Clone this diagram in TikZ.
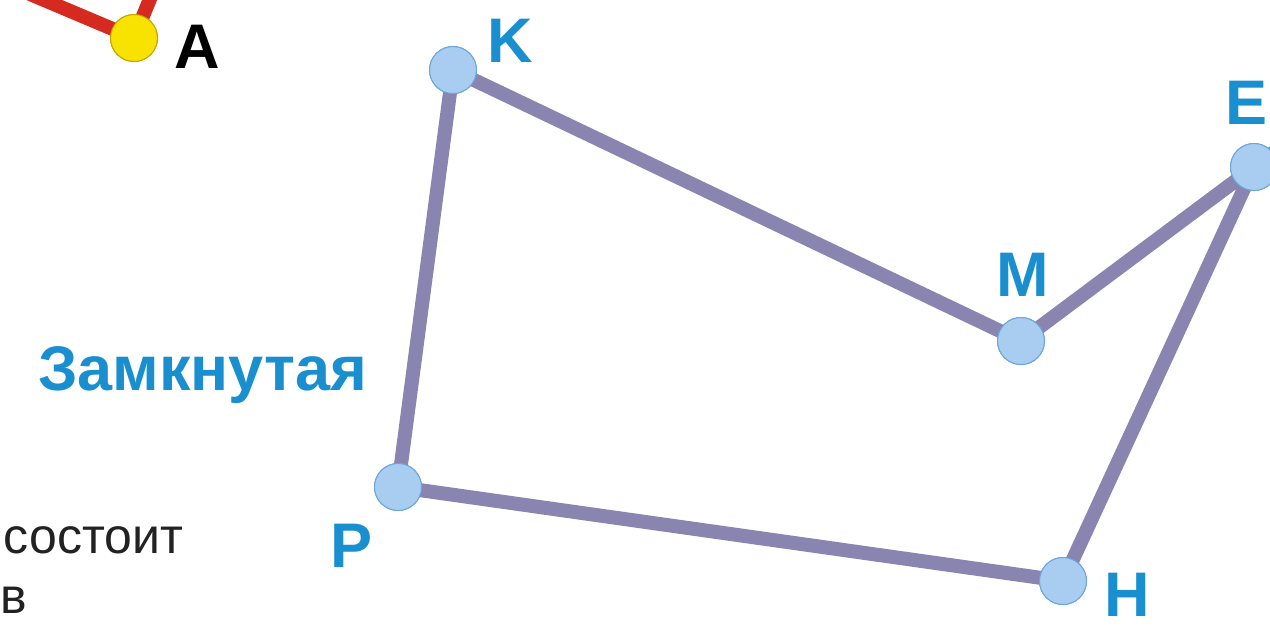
\documentclass[tikz,border=0pt]{standalone}
\usepackage{fontspec}
\setmainfont{Liberation Sans}
\usetikzlibrary{positioning}
\definecolor{edgegray}{HTML}{8A84B0}
\definecolor{dotblue}{HTML}{A9CDF0}
\definecolor{dotrim}{HTML}{6AA6D8}
\definecolor{lblblue}{HTML}{1A8FD0}
\definecolor{linered}{HTML}{D42A20}
\definecolor{dotyellow}{HTML}{F7E200}
\definecolor{yrim}{HTML}{C9A200}
\definecolor{txtgray}{HTML}{222222}

\begin{document}
\begin{tikzpicture}[
  x=1pt, y=-1pt,
  every node/.style={inner sep=0pt, outer sep=0pt},
  dot/.style={circle, draw=dotrim, line width=1pt, fill=dotblue, minimum size=47pt},
  ydot/.style={dot, draw=yrim, fill=dotyellow},
  edge/.style={draw=edgegray, line width=14pt},
  redline/.style={draw=linered, line width=14pt},
  lbl/.style={font=\fontsize{63}{70}\selectfont\bfseries, text=lblblue},
  blk/.style={font=\fontsize{63}{70}\selectfont\bfseries, text=black},
  txt/.style={font=\fontsize{50}{56}\selectfont, text=txtgray}
]
  \useasboundingbox (0,0) rectangle (1270,630);
  \clip (0,0) rectangle (1270,630);

  % open polyline, top left
  \coordinate (r1) at (30,-6);
  \coordinate (r2) at (152,-6);
  \node[ydot] (A) at (134,38) {};
  \draw[redline] (r1) -- (A.center) -- (r2);
  \node[ydot] at (A) {};
  \node[blk, anchor=base] (lA) at (197,68) {A};

  % closed polyline
  \node[dot] (K) at (453,70) {};
  \node[dot] (M) at (1021,341) {};
  \node[dot] (E) at (1254,167) {};
  \node[dot] (H) at (1063,581) {};
  \node[dot] (P) at (398,487) {};
  \draw[edge] (K.center) -- (M.center) -- (E.center) -- (H.center) -- (P.center) -- (K.center);
  \foreach \v in {K,M,E,H,P} \node[dot] at (\v) {};

  \node[lbl, anchor=base] (lK) at (510,62) {K};
  \node[lbl, anchor=base] (lM) at (1023,296) {M};
  \node[lbl, anchor=base east] (lE) at (1268,124) {E};
  \node[lbl, anchor=base] (lP) at (352,567) {P};
  \node[lbl, anchor=base] (lH) at (1127,616) {H};

  \node[lbl, anchor=base west] (zamk) at (38,390) {Замкнутая};
  \node[txt, anchor=base east] (sost) at (183,553) {состоит};
  \node[txt, anchor=base west] (lastv) at (1,613) {в};
\end{tikzpicture}
\end{document}
